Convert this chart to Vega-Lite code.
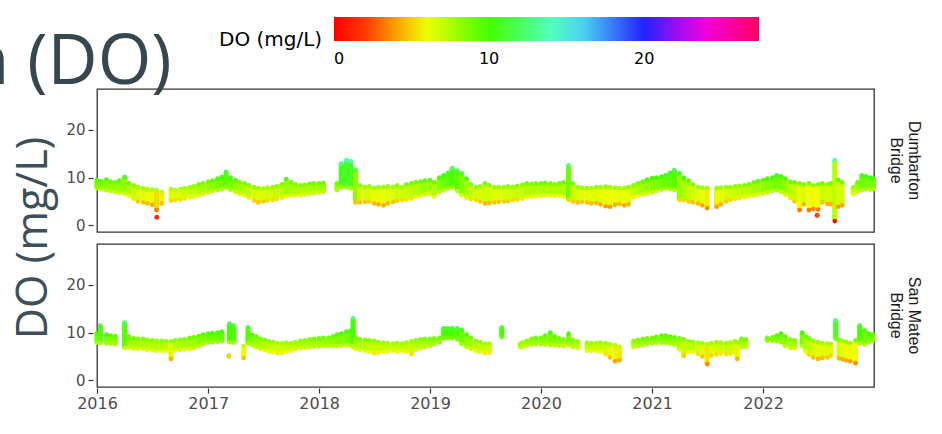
{
"$schema":"https://vega.github.io/schema/vega-lite/v6.json",
"background":"#ffffff",
"padding":{"left":-33,"top":17,"right":5,"bottom":5},
"title":{"text":"n (DO)","anchor":"start","frame":"group","fontSize":69,"font":"Open Sans","fontWeight":"normal","color":"#37474f","dx":-130,"dy":81,"offset":0},
"data":{"values":[
{"d":"2016-01-01","s":"D","lo":7.8,"m":8.7,"hi":9.5},
{"d":"2016-01-15","s":"D","lo":7.6,"m":8.5,"hi":9.3},
{"d":"2016-02-01","s":"D","lo":7.4,"m":8.5,"hi":9.6},
{"d":"2016-02-15","s":"D","lo":7.2,"m":8.2,"hi":9.2},
{"d":"2016-03-01","s":"D","lo":7.0,"m":8.0,"hi":9.0},
{"d":"2016-03-15","s":"D","lo":6.8,"m":8.1,"hi":9.4},
{"d":"2016-04-01","s":"D","lo":6.7,"m":8.4,"hi":10.1},
{"d":"2016-04-15","s":"D","lo":6.2,"m":7.5,"hi":8.8},
{"d":"2016-05-01","s":"D","lo":5.6,"m":7.0,"hi":8.4},
{"d":"2016-05-15","s":"D","lo":5.0,"m":6.5,"hi":8.0},
{"d":"2016-06-01","s":"D","lo":4.8,"m":6.3,"hi":7.8},
{"d":"2016-06-15","s":"D","lo":4.6,"m":6.1,"hi":7.6},
{"d":"2016-07-01","s":"D","lo":4.3,"m":5.9,"hi":7.5},
{"d":"2016-07-15","s":"D","lo":3.2,"m":5.3,"hi":7.4},
{"d":"2016-07-16","s":"D","lo":1.7,"m":1.7,"hi":1.7},
{"d":"2016-08-01","s":"D","lo":4.6,"m":5.8,"hi":7.0},
{"d":"2016-09-01","s":"D","lo":5.2,"m":6.4,"hi":7.6},
{"d":"2016-09-15","s":"D","lo":5.3,"m":6.4,"hi":7.4},
{"d":"2016-10-01","s":"D","lo":5.4,"m":6.5,"hi":7.6},
{"d":"2016-10-15","s":"D","lo":5.6,"m":6.7,"hi":7.8},
{"d":"2016-11-01","s":"D","lo":5.9,"m":7.0,"hi":8.0},
{"d":"2016-11-15","s":"D","lo":6.0,"m":7.1,"hi":8.2},
{"d":"2016-12-01","s":"D","lo":6.3,"m":7.5,"hi":8.6},
{"d":"2016-12-15","s":"D","lo":6.6,"m":7.7,"hi":8.8},
{"d":"2017-01-01","s":"D","lo":6.9,"m":8.0,"hi":9.1},
{"d":"2017-01-15","s":"D","lo":7.2,"m":8.3,"hi":9.4},
{"d":"2017-02-01","s":"D","lo":7.4,"m":8.6,"hi":9.8},
{"d":"2017-02-15","s":"D","lo":7.6,"m":8.9,"hi":10.1},
{"d":"2017-03-01","s":"D","lo":8.0,"m":9.6,"hi":11.2},
{"d":"2017-03-15","s":"D","lo":7.5,"m":8.8,"hi":10.0},
{"d":"2017-04-01","s":"D","lo":7.0,"m":8.3,"hi":9.5},
{"d":"2017-04-15","s":"D","lo":6.6,"m":7.8,"hi":9.0},
{"d":"2017-05-01","s":"D","lo":6.3,"m":7.6,"hi":8.8},
{"d":"2017-05-15","s":"D","lo":5.8,"m":7.1,"hi":8.4},
{"d":"2017-06-01","s":"D","lo":5.2,"m":6.6,"hi":8.0},
{"d":"2017-06-15","s":"D","lo":4.8,"m":6.3,"hi":7.8},
{"d":"2017-07-01","s":"D","lo":5.0,"m":6.4,"hi":7.7},
{"d":"2017-07-15","s":"D","lo":5.2,"m":6.6,"hi":7.9},
{"d":"2017-08-01","s":"D","lo":5.3,"m":6.7,"hi":8.0},
{"d":"2017-08-15","s":"D","lo":5.5,"m":6.9,"hi":8.2},
{"d":"2017-09-01","s":"D","lo":5.8,"m":7.2,"hi":8.6},
{"d":"2017-09-15","s":"D","lo":6.1,"m":7.9,"hi":9.7},
{"d":"2017-10-01","s":"D","lo":6.3,"m":7.7,"hi":9.0},
{"d":"2017-10-15","s":"D","lo":6.3,"m":7.5,"hi":8.6},
{"d":"2017-11-01","s":"D","lo":6.3,"m":7.4,"hi":8.4},
{"d":"2017-11-15","s":"D","lo":6.5,"m":7.5,"hi":8.5},
{"d":"2017-12-01","s":"D","lo":6.7,"m":7.7,"hi":8.7},
{"d":"2017-12-15","s":"D","lo":6.8,"m":7.8,"hi":8.8},
{"d":"2018-01-01","s":"D","lo":6.9,"m":7.9,"hi":8.8},
{"d":"2018-01-15","s":"D","lo":7.0,"m":8.0,"hi":8.9},
{"d":"2018-03-01","s":"D","lo":7.4,"m":8.1,"hi":8.8},
{"d":"2018-03-15","s":"D","lo":8.0,"m":10.5,"hi":13.0},
{"d":"2018-04-01","s":"D","lo":8.0,"m":10.8,"hi":13.7},
{"d":"2018-04-15","s":"D","lo":7.8,"m":10.6,"hi":13.5},
{"d":"2018-05-01","s":"D","lo":4.8,"m":8.2,"hi":11.6},
{"d":"2018-05-15","s":"D","lo":4.8,"m":6.6,"hi":8.4},
{"d":"2018-06-01","s":"D","lo":4.9,"m":6.5,"hi":8.0},
{"d":"2018-06-15","s":"D","lo":5.0,"m":6.6,"hi":8.2},
{"d":"2018-07-01","s":"D","lo":4.6,"m":6.2,"hi":7.8},
{"d":"2018-07-15","s":"D","lo":4.4,"m":6.2,"hi":8.0},
{"d":"2018-08-01","s":"D","lo":4.2,"m":6.1,"hi":8.0},
{"d":"2018-08-15","s":"D","lo":4.6,"m":6.4,"hi":8.2},
{"d":"2018-09-01","s":"D","lo":4.9,"m":6.5,"hi":8.0},
{"d":"2018-09-15","s":"D","lo":5.1,"m":6.8,"hi":8.4},
{"d":"2018-10-01","s":"D","lo":5.3,"m":6.7,"hi":8.0},
{"d":"2018-10-15","s":"D","lo":5.4,"m":7.0,"hi":8.6},
{"d":"2018-11-01","s":"D","lo":5.6,"m":7.2,"hi":8.8},
{"d":"2018-11-15","s":"D","lo":6.0,"m":7.5,"hi":9.0},
{"d":"2018-12-01","s":"D","lo":6.2,"m":7.7,"hi":9.2},
{"d":"2018-12-15","s":"D","lo":6.5,"m":8.0,"hi":9.4},
{"d":"2019-01-01","s":"D","lo":6.7,"m":8.1,"hi":9.5},
{"d":"2019-01-15","s":"D","lo":6.0,"m":7.5,"hi":9.0},
{"d":"2019-02-01","s":"D","lo":7.0,"m":8.5,"hi":10.0},
{"d":"2019-02-15","s":"D","lo":7.4,"m":9.0,"hi":10.5},
{"d":"2019-03-01","s":"D","lo":7.8,"m":9.4,"hi":11.0},
{"d":"2019-03-15","s":"D","lo":8.0,"m":10.0,"hi":12.0},
{"d":"2019-04-01","s":"D","lo":7.2,"m":9.4,"hi":11.5},
{"d":"2019-04-15","s":"D","lo":6.3,"m":8.6,"hi":10.9},
{"d":"2019-05-01","s":"D","lo":5.8,"m":7.8,"hi":9.8},
{"d":"2019-05-15","s":"D","lo":5.5,"m":7.1,"hi":8.6},
{"d":"2019-06-01","s":"D","lo":5.3,"m":6.7,"hi":8.0},
{"d":"2019-06-15","s":"D","lo":5.0,"m":6.6,"hi":8.2},
{"d":"2019-07-01","s":"D","lo":4.6,"m":6.7,"hi":8.8},
{"d":"2019-07-15","s":"D","lo":4.7,"m":6.6,"hi":8.4},
{"d":"2019-08-01","s":"D","lo":4.8,"m":6.4,"hi":8.0},
{"d":"2019-08-15","s":"D","lo":4.9,"m":6.5,"hi":8.0},
{"d":"2019-09-01","s":"D","lo":5.0,"m":6.5,"hi":8.0},
{"d":"2019-09-15","s":"D","lo":5.1,"m":6.7,"hi":8.2},
{"d":"2019-10-01","s":"D","lo":5.3,"m":6.7,"hi":8.0},
{"d":"2019-10-15","s":"D","lo":5.4,"m":6.9,"hi":8.3},
{"d":"2019-11-01","s":"D","lo":5.6,"m":7.1,"hi":8.5},
{"d":"2019-11-15","s":"D","lo":5.9,"m":7.4,"hi":8.8},
{"d":"2019-12-01","s":"D","lo":6.0,"m":7.4,"hi":8.7},
{"d":"2019-12-15","s":"D","lo":6.1,"m":7.5,"hi":8.8},
{"d":"2020-01-01","s":"D","lo":6.2,"m":7.5,"hi":8.8},
{"d":"2020-01-15","s":"D","lo":6.3,"m":7.6,"hi":8.9},
{"d":"2020-02-01","s":"D","lo":6.3,"m":7.6,"hi":8.8},
{"d":"2020-02-15","s":"D","lo":6.2,"m":7.4,"hi":8.6},
{"d":"2020-03-01","s":"D","lo":6.3,"m":7.6,"hi":8.8},
{"d":"2020-03-15","s":"D","lo":6.0,"m":7.5,"hi":9.0},
{"d":"2020-04-01","s":"D","lo":5.3,"m":9.0,"hi":12.6},
{"d":"2020-04-15","s":"D","lo":5.0,"m":6.9,"hi":8.8},
{"d":"2020-05-01","s":"D","lo":4.8,"m":6.4,"hi":8.0},
{"d":"2020-05-15","s":"D","lo":4.9,"m":6.4,"hi":7.9},
{"d":"2020-06-01","s":"D","lo":4.8,"m":6.3,"hi":7.8},
{"d":"2020-06-15","s":"D","lo":4.6,"m":6.2,"hi":7.8},
{"d":"2020-07-01","s":"D","lo":4.7,"m":6.4,"hi":8.0},
{"d":"2020-07-15","s":"D","lo":4.4,"m":6.2,"hi":8.0},
{"d":"2020-08-01","s":"D","lo":4.0,"m":6.1,"hi":8.1},
{"d":"2020-08-15","s":"D","lo":3.9,"m":6.0,"hi":8.0},
{"d":"2020-09-01","s":"D","lo":4.3,"m":6.1,"hi":7.9},
{"d":"2020-09-15","s":"D","lo":4.5,"m":6.2,"hi":7.8},
{"d":"2020-10-01","s":"D","lo":4.2,"m":6.0,"hi":7.8},
{"d":"2020-10-15","s":"D","lo":4.4,"m":6.2,"hi":8.0},
{"d":"2020-11-01","s":"D","lo":5.9,"m":7.2,"hi":8.4},
{"d":"2020-11-15","s":"D","lo":6.2,"m":7.5,"hi":8.8},
{"d":"2020-12-01","s":"D","lo":6.5,"m":7.9,"hi":9.2},
{"d":"2020-12-15","s":"D","lo":6.7,"m":8.2,"hi":9.6},
{"d":"2021-01-01","s":"D","lo":6.9,"m":8.4,"hi":9.9},
{"d":"2021-01-15","s":"D","lo":7.2,"m":8.6,"hi":10.0},
{"d":"2021-02-01","s":"D","lo":7.5,"m":8.9,"hi":10.2},
{"d":"2021-02-15","s":"D","lo":7.8,"m":9.2,"hi":10.5},
{"d":"2021-03-01","s":"D","lo":7.6,"m":9.3,"hi":11.0},
{"d":"2021-03-15","s":"D","lo":7.4,"m":9.5,"hi":11.6},
{"d":"2021-04-01","s":"D","lo":5.3,"m":8.1,"hi":10.9},
{"d":"2021-04-15","s":"D","lo":5.3,"m":7.6,"hi":9.9},
{"d":"2021-05-01","s":"D","lo":5.0,"m":7.2,"hi":9.4},
{"d":"2021-05-15","s":"D","lo":4.8,"m":6.7,"hi":8.6},
{"d":"2021-06-01","s":"D","lo":4.6,"m":6.3,"hi":8.0},
{"d":"2021-06-15","s":"D","lo":4.2,"m":6.1,"hi":7.9},
{"d":"2021-07-01","s":"D","lo":3.6,"m":5.7,"hi":7.8},
{"d":"2021-08-01","s":"D","lo":3.9,"m":5.9,"hi":7.8},
{"d":"2021-08-15","s":"D","lo":4.4,"m":6.2,"hi":7.9},
{"d":"2021-09-01","s":"D","lo":5.0,"m":6.5,"hi":8.0},
{"d":"2021-09-15","s":"D","lo":5.3,"m":6.7,"hi":8.0},
{"d":"2021-10-01","s":"D","lo":5.5,"m":6.9,"hi":8.2},
{"d":"2021-10-15","s":"D","lo":5.7,"m":7.0,"hi":8.3},
{"d":"2021-11-01","s":"D","lo":5.9,"m":7.2,"hi":8.4},
{"d":"2021-11-15","s":"D","lo":6.1,"m":7.4,"hi":8.6},
{"d":"2021-12-01","s":"D","lo":6.3,"m":7.7,"hi":9.0},
{"d":"2021-12-15","s":"D","lo":6.5,"m":7.9,"hi":9.3},
{"d":"2022-01-01","s":"D","lo":6.7,"m":8.1,"hi":9.5},
{"d":"2022-01-15","s":"D","lo":6.9,"m":8.4,"hi":9.8},
{"d":"2022-02-01","s":"D","lo":7.2,"m":8.6,"hi":10.0},
{"d":"2022-02-15","s":"D","lo":7.4,"m":9.0,"hi":10.5},
{"d":"2022-03-01","s":"D","lo":7.0,"m":8.7,"hi":10.3},
{"d":"2022-03-15","s":"D","lo":6.4,"m":8.1,"hi":9.8},
{"d":"2022-04-01","s":"D","lo":5.7,"m":7.4,"hi":9.1},
{"d":"2022-04-15","s":"D","lo":5.0,"m":7.0,"hi":9.0},
{"d":"2022-05-01","s":"D","lo":3.2,"m":6.0,"hi":8.8},
{"d":"2022-05-15","s":"D","lo":4.4,"m":6.5,"hi":8.6},
{"d":"2022-06-01","s":"D","lo":3.2,"m":6.0,"hi":8.8},
{"d":"2022-06-15","s":"D","lo":3.4,"m":5.9,"hi":8.4},
{"d":"2022-06-28","s":"D","lo":2.1,"m":2.1,"hi":2.1},
{"d":"2022-07-01","s":"D","lo":3.3,"m":6.0,"hi":8.6},
{"d":"2022-07-15","s":"D","lo":4.8,"m":6.8,"hi":8.8},
{"d":"2022-08-01","s":"D","lo":4.5,"m":6.6,"hi":8.6},
{"d":"2022-08-12","s":"D","lo":4.4,"m":6.6,"hi":8.8},
{"d":"2022-08-25","s":"D","lo":0.9,"m":7.3,"hi":13.7},
{"d":"2022-09-05","s":"D","lo":3.9,"m":6.7,"hi":9.5},
{"d":"2022-09-18","s":"D","lo":4.2,"m":6.6,"hi":9.0},
{"d":"2022-10-25","s":"D","lo":6.5,"m":7.2,"hi":8.0},
{"d":"2022-11-08","s":"D","lo":7.0,"m":8.0,"hi":9.0},
{"d":"2022-11-22","s":"D","lo":7.4,"m":9.0,"hi":10.5},
{"d":"2022-12-06","s":"D","lo":7.6,"m":9.0,"hi":10.3},
{"d":"2022-12-20","s":"D","lo":7.5,"m":8.8,"hi":10.0},
{"d":"2022-12-30","s":"D","lo":7.6,"m":8.7,"hi":9.8},
{"d":"2016-01-01","s":"S","lo":7.9,"m":8.9,"hi":9.8},
{"d":"2016-01-12","s":"S","lo":7.9,"m":9.7,"hi":11.5},
{"d":"2016-02-01","s":"S","lo":7.8,"m":8.7,"hi":9.6},
{"d":"2016-02-15","s":"S","lo":7.7,"m":8.6,"hi":9.4},
{"d":"2016-03-01","s":"S","lo":7.6,"m":8.5,"hi":9.3},
{"d":"2016-04-01","s":"S","lo":6.8,"m":9.5,"hi":12.1},
{"d":"2016-04-15","s":"S","lo":6.9,"m":8.1,"hi":9.2},
{"d":"2016-05-01","s":"S","lo":6.7,"m":7.8,"hi":8.8},
{"d":"2016-05-15","s":"S","lo":6.6,"m":7.7,"hi":8.7},
{"d":"2016-06-01","s":"S","lo":6.6,"m":7.7,"hi":8.7},
{"d":"2016-06-15","s":"S","lo":6.4,"m":7.5,"hi":8.5},
{"d":"2016-07-01","s":"S","lo":6.3,"m":7.4,"hi":8.4},
{"d":"2016-07-15","s":"S","lo":6.2,"m":7.3,"hi":8.3},
{"d":"2016-08-01","s":"S","lo":6.2,"m":7.3,"hi":8.3},
{"d":"2016-08-15","s":"S","lo":6.2,"m":7.2,"hi":8.2},
{"d":"2016-09-01","s":"S","lo":4.5,"m":6.4,"hi":8.2},
{"d":"2016-09-15","s":"S","lo":6.3,"m":7.4,"hi":8.4},
{"d":"2016-10-01","s":"S","lo":6.4,"m":7.5,"hi":8.5},
{"d":"2016-10-15","s":"S","lo":6.5,"m":7.6,"hi":8.6},
{"d":"2016-11-01","s":"S","lo":6.6,"m":7.8,"hi":8.9},
{"d":"2016-11-15","s":"S","lo":6.8,"m":7.9,"hi":9.0},
{"d":"2016-12-01","s":"S","lo":7.2,"m":8.3,"hi":9.3},
{"d":"2016-12-15","s":"S","lo":7.6,"m":8.6,"hi":9.6},
{"d":"2017-01-01","s":"S","lo":7.9,"m":8.9,"hi":9.8},
{"d":"2017-01-15","s":"S","lo":8.0,"m":9.0,"hi":9.9},
{"d":"2017-02-01","s":"S","lo":8.1,"m":9.1,"hi":10.0},
{"d":"2017-02-15","s":"S","lo":8.2,"m":9.2,"hi":10.2},
{"d":"2017-03-10","s":"S","lo":5.0,"m":5.1,"hi":5.2},
{"d":"2017-03-12","s":"S","lo":8.0,"m":10.0,"hi":11.9},
{"d":"2017-03-26","s":"S","lo":7.9,"m":9.7,"hi":11.5},
{"d":"2017-04-28","s":"S","lo":4.7,"m":6.0,"hi":7.2},
{"d":"2017-05-12","s":"S","lo":7.8,"m":9.5,"hi":11.1},
{"d":"2017-05-25","s":"S","lo":7.4,"m":8.5,"hi":9.6},
{"d":"2017-06-08","s":"S","lo":7.0,"m":8.1,"hi":9.2},
{"d":"2017-06-22","s":"S","lo":6.6,"m":7.7,"hi":8.7},
{"d":"2017-07-06","s":"S","lo":6.4,"m":7.5,"hi":8.5},
{"d":"2017-07-20","s":"S","lo":6.0,"m":7.1,"hi":8.2},
{"d":"2017-08-03","s":"S","lo":5.9,"m":7.0,"hi":8.0},
{"d":"2017-08-17","s":"S","lo":5.7,"m":6.8,"hi":7.8},
{"d":"2017-09-01","s":"S","lo":5.8,"m":6.8,"hi":7.8},
{"d":"2017-09-15","s":"S","lo":6.0,"m":7.0,"hi":7.9},
{"d":"2017-10-01","s":"S","lo":6.2,"m":7.0,"hi":7.8},
{"d":"2017-10-15","s":"S","lo":6.6,"m":7.3,"hi":8.0},
{"d":"2017-11-01","s":"S","lo":6.8,"m":7.6,"hi":8.3},
{"d":"2017-11-15","s":"S","lo":6.9,"m":7.7,"hi":8.4},
{"d":"2017-12-01","s":"S","lo":7.0,"m":7.8,"hi":8.6},
{"d":"2017-12-15","s":"S","lo":7.1,"m":7.9,"hi":8.7},
{"d":"2018-01-01","s":"S","lo":7.1,"m":8.0,"hi":8.8},
{"d":"2018-01-15","s":"S","lo":7.2,"m":8.1,"hi":8.9},
{"d":"2018-02-01","s":"S","lo":7.2,"m":8.1,"hi":8.9},
{"d":"2018-02-15","s":"S","lo":7.2,"m":8.2,"hi":9.2},
{"d":"2018-03-01","s":"S","lo":7.2,"m":8.4,"hi":9.6},
{"d":"2018-03-15","s":"S","lo":7.3,"m":8.6,"hi":9.8},
{"d":"2018-04-01","s":"S","lo":7.4,"m":8.8,"hi":10.2},
{"d":"2018-04-15","s":"S","lo":7.3,"m":8.9,"hi":10.4},
{"d":"2018-04-23","s":"S","lo":7.0,"m":10.0,"hi":13.0},
{"d":"2018-05-01","s":"S","lo":6.6,"m":7.8,"hi":9.0},
{"d":"2018-05-15","s":"S","lo":6.4,"m":7.5,"hi":8.6},
{"d":"2018-06-01","s":"S","lo":6.2,"m":7.4,"hi":8.5},
{"d":"2018-06-15","s":"S","lo":6.0,"m":7.2,"hi":8.4},
{"d":"2018-07-01","s":"S","lo":5.7,"m":7.0,"hi":8.3},
{"d":"2018-07-15","s":"S","lo":5.8,"m":6.9,"hi":8.0},
{"d":"2018-08-01","s":"S","lo":6.0,"m":7.0,"hi":7.9},
{"d":"2018-08-15","s":"S","lo":6.1,"m":7.0,"hi":7.8},
{"d":"2018-09-01","s":"S","lo":6.2,"m":7.0,"hi":7.7},
{"d":"2018-09-15","s":"S","lo":6.0,"m":6.9,"hi":7.8},
{"d":"2018-10-01","s":"S","lo":6.2,"m":7.0,"hi":7.7},
{"d":"2018-10-15","s":"S","lo":6.0,"m":7.0,"hi":7.9},
{"d":"2018-11-01","s":"S","lo":5.5,"m":6.9,"hi":8.2},
{"d":"2018-11-15","s":"S","lo":6.4,"m":7.4,"hi":8.4},
{"d":"2018-12-01","s":"S","lo":6.8,"m":7.7,"hi":8.6},
{"d":"2018-12-15","s":"S","lo":7.0,"m":7.9,"hi":8.7},
{"d":"2019-01-01","s":"S","lo":7.2,"m":8.0,"hi":8.7},
{"d":"2019-01-15","s":"S","lo":7.6,"m":8.2,"hi":8.8},
{"d":"2019-02-01","s":"S","lo":8.0,"m":8.5,"hi":8.9},
{"d":"2019-02-15","s":"S","lo":8.9,"m":9.9,"hi":10.9},
{"d":"2019-03-01","s":"S","lo":8.9,"m":9.9,"hi":10.9},
{"d":"2019-03-15","s":"S","lo":8.9,"m":9.9,"hi":10.9},
{"d":"2019-04-01","s":"S","lo":8.6,"m":9.8,"hi":10.9},
{"d":"2019-04-15","s":"S","lo":7.6,"m":9.1,"hi":10.6},
{"d":"2019-05-01","s":"S","lo":7.0,"m":8.3,"hi":9.6},
{"d":"2019-05-15","s":"S","lo":6.6,"m":7.8,"hi":8.9},
{"d":"2019-06-01","s":"S","lo":6.2,"m":7.3,"hi":8.3},
{"d":"2019-06-15","s":"S","lo":6.0,"m":7.0,"hi":8.0},
{"d":"2019-07-01","s":"S","lo":5.7,"m":6.7,"hi":7.7},
{"d":"2019-07-15","s":"S","lo":5.8,"m":6.8,"hi":7.7},
{"d":"2019-08-25","s":"S","lo":9.1,"m":10.1,"hi":11.1},
{"d":"2019-10-25","s":"S","lo":7.0,"m":7.4,"hi":7.7},
{"d":"2019-11-01","s":"S","lo":7.0,"m":7.5,"hi":7.9},
{"d":"2019-11-15","s":"S","lo":7.2,"m":7.8,"hi":8.3},
{"d":"2019-12-01","s":"S","lo":7.5,"m":8.1,"hi":8.7},
{"d":"2019-12-15","s":"S","lo":7.6,"m":8.3,"hi":8.9},
{"d":"2020-01-01","s":"S","lo":7.6,"m":8.3,"hi":8.9},
{"d":"2020-01-15","s":"S","lo":7.5,"m":8.5,"hi":9.4},
{"d":"2020-02-01","s":"S","lo":7.4,"m":8.7,"hi":10.0},
{"d":"2020-02-15","s":"S","lo":7.4,"m":8.3,"hi":9.2},
{"d":"2020-03-01","s":"S","lo":7.3,"m":8.1,"hi":8.8},
{"d":"2020-03-15","s":"S","lo":7.2,"m":7.9,"hi":8.6},
{"d":"2020-04-01","s":"S","lo":7.4,"m":8.6,"hi":9.8},
{"d":"2020-04-15","s":"S","lo":7.0,"m":7.8,"hi":8.5},
{"d":"2020-05-01","s":"S","lo":6.8,"m":7.5,"hi":8.2},
{"d":"2020-06-01","s":"S","lo":6.2,"m":7.1,"hi":7.9},
{"d":"2020-06-15","s":"S","lo":6.2,"m":7.0,"hi":7.8},
{"d":"2020-07-01","s":"S","lo":6.2,"m":7.0,"hi":7.8},
{"d":"2020-07-15","s":"S","lo":6.0,"m":7.0,"hi":7.9},
{"d":"2020-08-01","s":"S","lo":5.5,"m":6.7,"hi":7.8},
{"d":"2020-08-15","s":"S","lo":4.8,"m":6.2,"hi":7.6},
{"d":"2020-09-01","s":"S","lo":4.0,"m":5.7,"hi":7.4},
{"d":"2020-09-15","s":"S","lo":4.2,"m":5.6,"hi":7.0},
{"d":"2020-11-01","s":"S","lo":7.0,"m":7.7,"hi":8.3},
{"d":"2020-11-15","s":"S","lo":7.2,"m":7.9,"hi":8.5},
{"d":"2020-12-01","s":"S","lo":7.4,"m":8.1,"hi":8.7},
{"d":"2020-12-15","s":"S","lo":7.6,"m":8.2,"hi":8.8},
{"d":"2021-01-01","s":"S","lo":7.8,"m":8.4,"hi":8.9},
{"d":"2021-01-15","s":"S","lo":7.9,"m":8.5,"hi":9.1},
{"d":"2021-02-01","s":"S","lo":7.9,"m":8.7,"hi":9.4},
{"d":"2021-02-15","s":"S","lo":7.9,"m":8.7,"hi":9.4},
{"d":"2021-03-01","s":"S","lo":7.7,"m":8.5,"hi":9.2},
{"d":"2021-03-15","s":"S","lo":7.5,"m":8.3,"hi":9.0},
{"d":"2021-04-01","s":"S","lo":6.5,"m":7.7,"hi":8.8},
{"d":"2021-04-15","s":"S","lo":5.1,"m":6.9,"hi":8.6},
{"d":"2021-05-01","s":"S","lo":6.0,"m":7.1,"hi":8.2},
{"d":"2021-05-15","s":"S","lo":6.0,"m":7.0,"hi":8.0},
{"d":"2021-06-01","s":"S","lo":5.5,"m":6.7,"hi":7.9},
{"d":"2021-06-15","s":"S","lo":5.0,"m":6.4,"hi":7.8},
{"d":"2021-07-01","s":"S","lo":3.4,"m":5.5,"hi":7.6},
{"d":"2021-07-15","s":"S","lo":5.2,"m":6.5,"hi":7.8},
{"d":"2021-08-01","s":"S","lo":5.4,"m":6.7,"hi":8.0},
{"d":"2021-08-15","s":"S","lo":5.6,"m":6.8,"hi":7.9},
{"d":"2021-09-01","s":"S","lo":5.5,"m":6.7,"hi":7.8},
{"d":"2021-09-15","s":"S","lo":5.6,"m":6.8,"hi":7.9},
{"d":"2021-10-01","s":"S","lo":5.8,"m":7.0,"hi":8.2},
{"d":"2021-10-08","s":"S","lo":4.5,"m":6.3,"hi":8.0},
{"d":"2021-10-22","s":"S","lo":7.0,"m":7.9,"hi":8.7},
{"d":"2021-11-05","s":"S","lo":7.1,"m":7.9,"hi":8.6},
{"d":"2022-01-15","s":"S","lo":8.3,"m":8.6,"hi":8.9},
{"d":"2022-02-01","s":"S","lo":8.3,"m":8.7,"hi":9.0},
{"d":"2022-02-15","s":"S","lo":8.2,"m":8.8,"hi":9.4},
{"d":"2022-03-01","s":"S","lo":8.0,"m":8.9,"hi":9.8},
{"d":"2022-03-15","s":"S","lo":7.2,"m":8.2,"hi":9.2},
{"d":"2022-04-01","s":"S","lo":6.8,"m":7.7,"hi":8.6},
{"d":"2022-04-15","s":"S","lo":6.8,"m":7.6,"hi":8.4},
{"d":"2022-05-10","s":"S","lo":7.2,"m":8.6,"hi":10.0},
{"d":"2022-05-22","s":"S","lo":6.0,"m":7.6,"hi":9.2},
{"d":"2022-06-01","s":"S","lo":5.4,"m":7.1,"hi":8.8},
{"d":"2022-06-15","s":"S","lo":4.8,"m":6.6,"hi":8.3},
{"d":"2022-07-01","s":"S","lo":4.5,"m":6.3,"hi":8.0},
{"d":"2022-07-15","s":"S","lo":4.7,"m":6.3,"hi":7.8},
{"d":"2022-08-01","s":"S","lo":4.8,"m":6.3,"hi":7.7},
{"d":"2022-08-12","s":"S","lo":5.2,"m":6.4,"hi":7.6},
{"d":"2022-08-28","s":"S","lo":8.7,"m":10.7,"hi":12.6},
{"d":"2022-09-08","s":"S","lo":4.6,"m":6.6,"hi":8.5},
{"d":"2022-09-20","s":"S","lo":4.4,"m":6.4,"hi":8.3},
{"d":"2022-10-01","s":"S","lo":4.2,"m":6.1,"hi":8.0},
{"d":"2022-10-15","s":"S","lo":4.0,"m":5.9,"hi":7.8},
{"d":"2022-11-01","s":"S","lo":3.6,"m":6.0,"hi":8.4},
{"d":"2022-11-15","s":"S","lo":7.8,"m":9.7,"hi":11.5},
{"d":"2022-12-01","s":"S","lo":7.5,"m":9.0,"hi":10.5},
{"d":"2022-12-15","s":"S","lo":8.0,"m":8.9,"hi":9.8},
{"d":"2022-12-28","s":"S","lo":8.3,"m":9.0,"hi":9.6}
]},
"facet":{"row":{"field":"s","type":"nominal","sort":["D","S"],"title":"DO (mg/L)",
  "header":{"labelOrient":"right","labelAngle":90,"labelExpr":"datum.value == 'D' ? ['Dumbarton', 'Bridge'] : ['San Mateo', 'Bridge']","labelFontSize":16,"labelFont":"Liberation Sans","labelColor":"#1a1a1a","labelPadding":11,"labelLineHeight":18,
  "titleOrient":"left","titleFontSize":43,"titleFont":"Open Sans","titleFontWeight":"normal","titleColor":"#3d4f5a","titlePadding":-1}}},
"spacing":{"row":10},
"spec":{
 "width":777,"height":143,
 "encoding":{"x":{"field":"d","type":"temporal","scale":{"domain":[{"year":2016,"month":1,"date":1},{"year":2022,"month":12,"date":31,"hours":23}],"nice":false,"padding":0},
   "axis":{"title":null,"format":"%Y","tickCount":{"interval":"year","step":1},"labelFlush":false,"labelFontSize":16,"labelFont":"DejaVu Sans","labelColor":"#4d4d4d","tickColor":"#333333","tickSize":5,"tickWidth":1.2,"domain":false,"grid":false,"labelPadding":2}}},
 "layer":[
  {"mark":{"type":"bar","width":5.2},
   "encoding":{"y":{"field":"lo","type":"quantitative","scale":{"domain":[-1.4,28.6],"nice":false,"zero":false},
      "axis":{"title":null,"values":[0,10,20],"labelFontSize":15,"labelFont":"DejaVu Sans","labelColor":"#4d4d4d","tickColor":"#333333","tickSize":5,"tickWidth":1.2,"domain":false,"grid":false,"labelPadding":3}},
    "y2":{"field":"hi"},
    "color":{"field":"m","type":"quantitative","title":["","DO (mg/L)"],
      "scale":{"domain":[0,1.2,3.5,6,10,15,20,23.5,27.4],"range":["#ff0000","#ff1000","#ff8800","#eeff00","#44ff00","#55ffee","#2222ff","#ee00ee","#ff0060"],"interpolate":"rgb"},
      "legend":{"type":"gradient","orient":"none","legendX":122,"legendY":-72,"direction":"horizontal","gradientLength":425,"gradientThickness":24,"titleOrient":"left","titleFontSize":20,"titleFont":"DejaVu Sans","titleFontWeight":"normal","titleColor":"#000000","titleLineHeight":22,"labelFontSize":16,"labelFont":"DejaVu Sans","labelColor":"#000000","values":[0,10,20],"gradientStrokeWidth":0,"titlePadding":11,"labelOffset":10}}}},
  {"mark":{"type":"circle","size":22,"opacity":1},
   "encoding":{"y":{"field":"lo","type":"quantitative"},
    "color":{"field":"lo","type":"quantitative","title":["","DO (mg/L)"]}}},
  {"mark":{"type":"circle","size":22,"opacity":1},
   "encoding":{"y":{"field":"hi","type":"quantitative"},
    "color":{"field":"hi","type":"quantitative","title":["","DO (mg/L)"]}}}
 ]
},
"config":{"view":{"stroke":"#333333","strokeWidth":1.3}}
}
